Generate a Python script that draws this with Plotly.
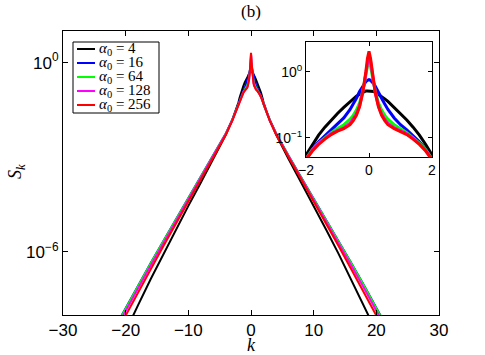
import plotly.graph_objects as go

# k >= 0 half of the spectrum (curves are symmetric in k)
k_half = [0, 0.05, 0.1, 0.15, 0.2, 0.3, 0.4, 0.5, 0.6, 0.8, 1.0, 1.2, 1.4, 1.6, 1.8, 2.0,
          2.5, 3, 4, 5, 6, 8, 10, 12, 14, 16, 18, 20, 22]

s_a4 = [0.513, 0.513, 0.513, 0.501, 0.490, 0.457, 0.427, 0.389, 0.355, 0.288, 0.234, 0.186,
        0.145, 0.110, 0.0794, 0.0550, 0.0282, 0.0151, 5.25e-3, 2.09e-3, 8.71e-4, 1.58e-4,
        2.88e-5, 5.01e-6, 8.51e-7, 1.38e-7, 2.09e-8, 3.16e-9, 4.47e-10]
s_a16 = [0.759, 0.741, 0.708, 0.661, 0.603, 0.501, 0.398, 0.324, 0.269, 0.200, 0.158, 0.132,
         0.107, 0.0871, 0.0676, 0.0479, 0.0263, 0.0151, 5.75e-3, 2.51e-3, 1.12e-3, 2.34e-4,
         5.01e-5, 1.05e-5, 2.19e-6, 4.47e-7, 8.91e-8, 1.66e-8, 3.16e-9]
s_a64 = [1.380, 1.202, 0.891, 0.661, 0.501, 0.339, 0.263, 0.219, 0.191, 0.158, 0.138, 0.120,
         0.100, 0.0832, 0.0661, 0.0479, 0.0263, 0.0148, 5.62e-3, 2.45e-3, 1.10e-3, 2.29e-4,
         4.90e-5, 1.02e-5, 2.14e-6, 4.37e-7, 8.71e-8, 1.62e-8, 3.02e-9]
s_a128 = [1.820, 1.445, 0.955, 0.646, 0.479, 0.302, 0.229, 0.191, 0.166, 0.141, 0.129, 0.115,
          0.0977, 0.0813, 0.0646, 0.0468, 0.0257, 0.0145, 5.50e-3, 2.34e-3, 1.05e-3, 2.14e-4,
          4.47e-5, 9.12e-6, 1.86e-6, 3.72e-7, 7.24e-8, 1.35e-8, 2.51e-9]
s_a256 = [2.042, 1.585, 1.0, 0.661, 0.479, 0.295, 0.219, 0.182, 0.158, 0.138, 0.126, 0.112,
          0.0955, 0.0794, 0.0631, 0.0468, 0.0251, 0.0141, 5.25e-3, 2.24e-3, 1.00e-3, 2.00e-4,
          3.98e-5, 7.94e-6, 1.51e-6, 2.82e-7, 5.37e-8, 1.00e-8, 1.78e-9]

alphas = ['4', '16', '64', '128', '256']
series = [s_a4, s_a16, s_a64, s_a128, s_a256]
line_colors = ['#000000', '#0000ff', '#00ff00', '#ff00ff', '#ff0000']

main_xticks = [-30, -20, -10, 0, 10, 20, 30]
main_yticks = [1e-6, 1]
main_yticklabels = ['10<sup>\u22126</sup>', '10<sup>0</sup>']
inset_xticks = [-2, 0, 2]
inset_yticks = [0.1, 1]
inset_yticklabels = ['10<sup>\u22121</sup>', '10<sup>0</sup>']

# plot area on screen is 63..439 x 31..315 px (page body margin removed below)
W, H = 485, 355
L, T = 63, 31
R = W - 439
B = H - 315


def px_x(px):
    return (px - L) / (W - L - R)


def px_y(py):
    return (H - B - py) / (H - T - B)


def mirror(k, s):
    kk = [-v for v in reversed(k[1:])] + k
    ss = list(reversed(s[1:])) + s
    return kk, ss


def minus(v):
    return str(v).replace('-', '\u2212')


fig = go.Figure()

for a, s, c in zip(alphas, series, line_colors):
    kk, ss = mirror(k_half, s)
    fig.add_trace(go.Scatter(x=kk, y=ss, mode='lines', showlegend=False,
                             name=f'\u03b1\u2080 = {a}',
                             line=dict(color=c, width=2),
                             xaxis='x', yaxis='y'))

for a, s, c in zip(alphas, series, line_colors):
    kk, ss = mirror(k_half, s)
    fig.add_trace(go.Scatter(x=kk, y=ss, mode='lines', showlegend=False,
                             name=f'\u03b1\u2080 = {a}',
                             line=dict(color=c, width=3),
                             xaxis='x2', yaxis='y2'))

# matlab-style compact legend box
shapes = [dict(type='rect', xref='paper', yref='paper',
               x0=px_x(73), x1=px_x(159), y0=px_y(113), y1=px_y(42),
               line=dict(color='black', width=1), fillcolor='white', layer='above')]
annotations = []
for i, (a, c) in enumerate(zip(alphas, line_colors)):
    yy = px_y(49 + 14 * i)
    shapes.append(dict(type='line', xref='paper', yref='paper',
                       x0=px_x(77), x1=px_x(95), y0=yy, y1=yy,
                       line=dict(color=c, width=2)))
    annotations.append(dict(text=f'<i>\u03b1</i><sub>0</sub> = {a}', x=px_x(97), y=yy,
                            xref='paper', yref='paper', xanchor='left', yanchor='middle',
                            showarrow=False,
                            font=dict(family='Liberation Serif', size=15)))

annotations += [
    dict(text='(b)', x=px_x(251), y=px_y(12), xref='paper', yref='paper', showarrow=False,
         xanchor='center', yanchor='middle',
         font=dict(family='Liberation Serif', size=17)),
    dict(text='<i>k</i>', x=px_x(251), y=px_y(345), xref='paper', yref='paper',
         showarrow=False, xanchor='center', yanchor='middle',
         font=dict(family='Liberation Serif', size=18)),
    dict(text='<i>S</i><sub><i>k</i></sub>', x=px_x(16), y=px_y(172), xref='paper',
         yref='paper', showarrow=False, textangle=-90, xanchor='center', yanchor='middle',
         font=dict(family='Liberation Serif', size=18)),
]

axis_common = dict(showline=True, linecolor='black', linewidth=1, mirror='ticks',
                   ticks='inside', tickcolor='black', showgrid=False, zeroline=False,
                   automargin=False)

fig.update_layout(
    template='none',
    width=W, height=H,
    margin=dict(l=L, r=R, t=T, b=B),
    plot_bgcolor='white', paper_bgcolor='white',
    font=dict(family='Liberation Sans, Arial', color='black'),
    showlegend=False,
    xaxis=dict(range=[-30, 30], tickvals=main_xticks,
               ticktext=[minus(v) for v in main_xticks], ticklen=5,
               tickfont=dict(size=17), **axis_common),
    yaxis=dict(type='log', range=[-8, 1], tickvals=main_yticks,
               ticktext=main_yticklabels, ticklen=5,
               tickfont=dict(size=17), **axis_common),
    xaxis2=dict(domain=[px_x(306), px_x(432)], anchor='y2', range=[-2, 2],
                tickvals=inset_xticks, ticktext=[minus(v) for v in inset_xticks],
                ticklen=4, tickfont=dict(size=14), **axis_common),
    yaxis2=dict(domain=[px_y(157), px_y(42)], anchor='x2', type='log', range=[-1.29, 0.45],
                tickvals=inset_yticks, ticktext=inset_yticklabels,
                ticklen=4, tickfont=dict(size=14), **axis_common),
    shapes=shapes,
    annotations=annotations,
)

fig.write_html("out.html", config={'displayModeBar': False},
               post_script="document.body.style.margin = '0';")
